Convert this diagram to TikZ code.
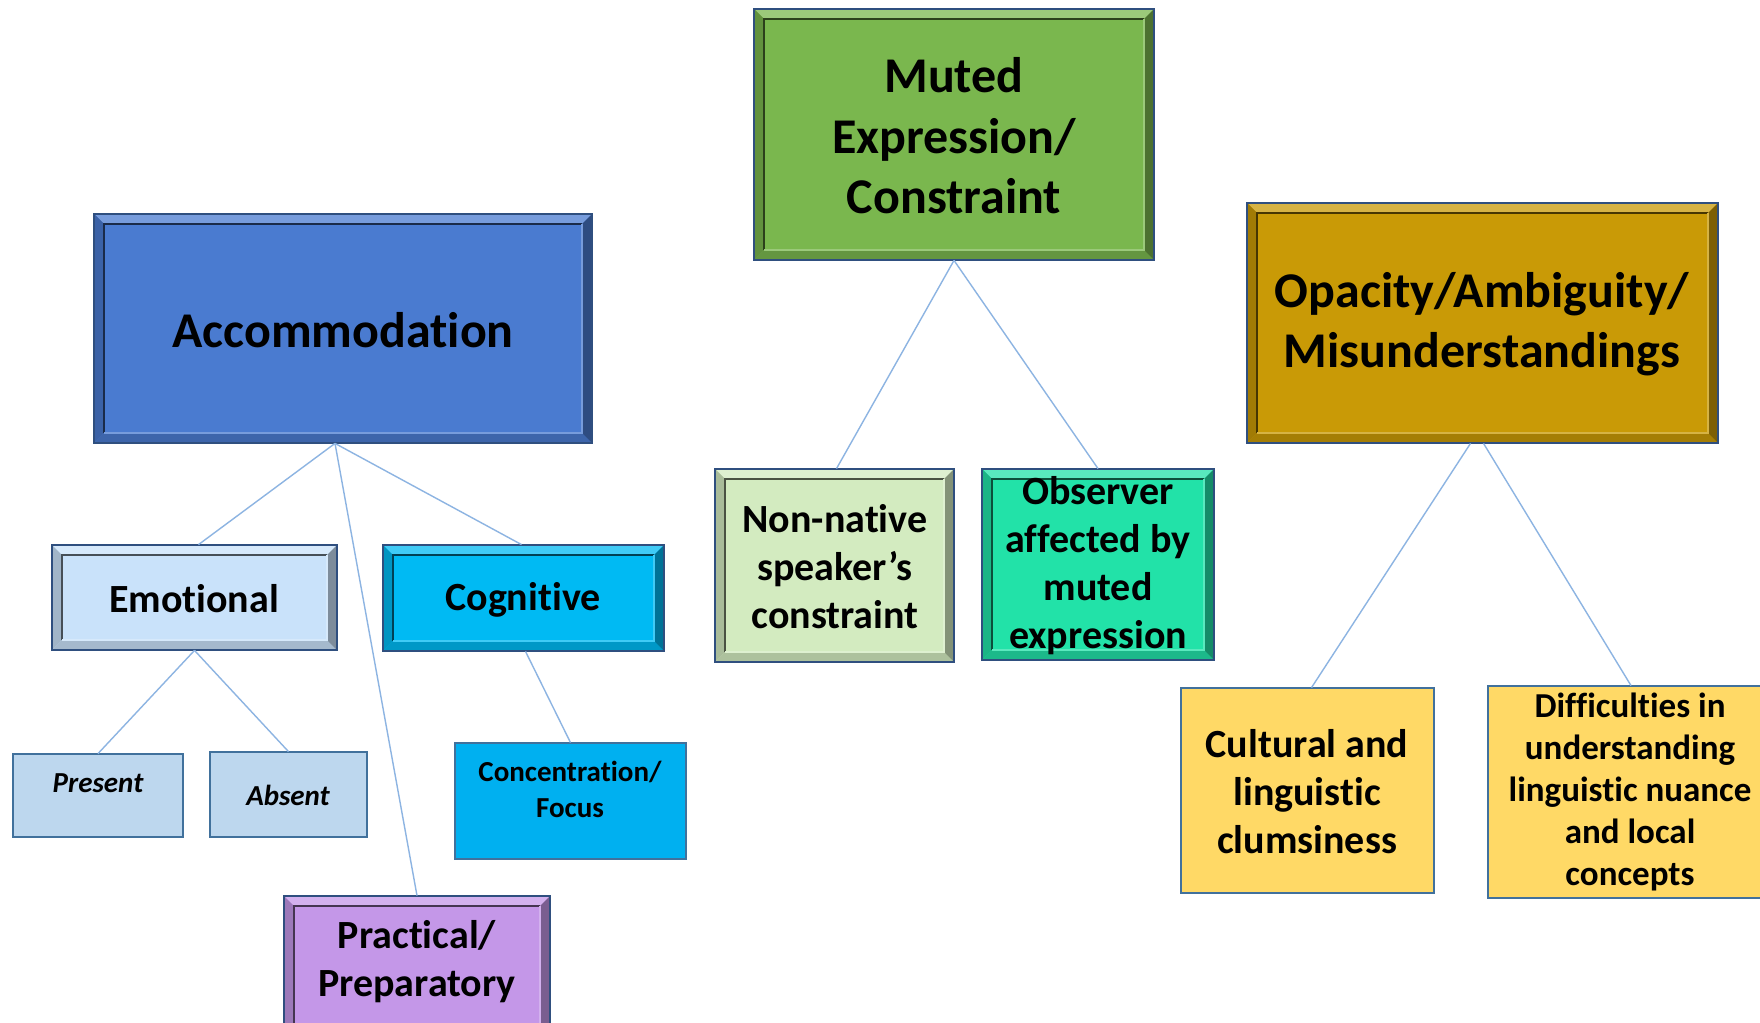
\documentclass[tikz,border=0pt]{standalone}
\usepackage{fontspec}
\setmainfont{Carlito}[Ligatures={NoCommon}]
\usetikzlibrary{calc,fit}
\definecolor{accC}{HTML}{4A7BD0}
\definecolor{mutC}{HTML}{7AB74E}
\definecolor{opaC}{HTML}{C99A06}
\definecolor{emoC}{HTML}{C9E2FA}
\definecolor{cogC}{HTML}{00BAF3}
\definecolor{preC}{HTML}{BDD7EE}
\definecolor{conC}{HTML}{00B0F0}
\definecolor{praC}{HTML}{C497E8}
\definecolor{nonC}{HTML}{D3EBC0}
\definecolor{obsC}{HTML}{22E2A8}
\definecolor{culC}{HTML}{FFD966}
\definecolor{lineC}{HTML}{8DB4E2}
\definecolor{bordC}{HTML}{41719C}
\definecolor{outerC}{HTML}{2F4F7F}
\newcommand\bw{10}
\newcommand\bevbox[6]{%
 \fill[#6] (#2,#3) rectangle (#4,#5);
 \fill[#6!75!white] (#2,#3) -- (#4,#3) -- ($(#4,#3)+(-\bw,\bw)$) -- ($(#2,#3)+(\bw,\bw)$) -- cycle;
 \fill[#6!80!black] (#2,#3) -- ($(#2,#3)+(\bw,\bw)$) -- ($(#2,#5)+(\bw,-\bw)$) -- (#2,#5) -- cycle;
 \fill[#6!82!black] (#2,#5) -- ($(#2,#5)+(\bw,-\bw)$) -- ($(#4,#5)+(-\bw,-\bw)$) -- (#4,#5) -- cycle;
 \fill[#6!62!black] (#4,#3) -- (#4,#5) -- ($(#4,#5)+(-\bw,-\bw)$) -- ($(#4,#3)+(-\bw,\bw)$) -- cycle;
 \draw[#6!35!black, line width=0.8pt] ($(#2,#5)+(\bw,-\bw)$) -- ($(#2,#3)+(\bw,\bw)$) -- ($(#4,#3)+(-\bw,\bw)$);
 \draw[#6!75!white, line width=0.6pt] ($(#4,#3)+(-\bw,\bw)$) -- ($(#4,#5)+(-\bw,-\bw)$) -- ($(#2,#5)+(\bw,-\bw)$);
 \draw[outerC, line width=0.9pt] (#2,#3) rectangle (#4,#5);
 \node[fit={(#2,#3) (#4,#5)}, inner sep=0pt] (#1) {};
}
\newcommand\flatbox[6]{%
 \draw[bordC, line width=1pt, fill=#6] (#2,#3) rectangle (#4,#5);
 \node[fit={(#2,#3) (#4,#5)}, inner sep=0pt] (#1) {};
}
\tikzset{
 big/.style={font=\fontsize{25pt}{30.3pt}\selectfont\bfseries, align=center, inner sep=0pt},
 mid/.style={font=\fontsize{20pt}{24pt}\selectfont\bfseries, align=center, inner sep=0pt},
 diff/.style={font=\fontsize{17.5pt}{21.1pt}\selectfont\bfseries, align=center, inner sep=0pt},
 small/.style={font=\fontsize{14.5pt}{18pt}\selectfont\bfseries, align=center, inner sep=0pt},
 smallit/.style={font=\fontsize{14.5pt}{18pt}\selectfont\bfseries\itshape, align=center, inner sep=0pt},
 conn/.style={draw=lineC, line width=0.7pt}
}
\begin{document}
\begin{tikzpicture}[x=0.5pt,y=-0.5pt]
\clip (0,0) rectangle (1760,1022);
\fill[white] (0,0) rectangle (1760,1022);
% boxes
\bevbox{acc}{94}{214}{592}{443}{accC}
\bevbox{mut}{754}{9}{1154}{260}{mutC}
\bevbox{opa}{1247}{203}{1718}{443}{opaC}
\bevbox{emo}{52}{545}{337}{650}{emoC}
\bevbox{cog}{383}{545}{664}{651}{cogC}
\bevbox{pra}{284}{896}{550}{1036}{praC}
\bevbox{non}{715}{469}{954}{662}{nonC}
\bevbox{obs}{982}{469}{1214}{660}{obsC}
\flatbox{pre}{13}{754}{183}{837}{preC}
\flatbox{abs}{210}{752}{367}{837}{preC}
\flatbox{con}{455}{743}{686}{859}{conC}
\flatbox{cul}{1181}{688}{1434}{893}{culC}
\flatbox{dif}{1488}{686}{1762}{898}{culC}
% texts
\node[big] (accT) at (343,330) {Accommodation};
\node[big] (mutT) at (954,136) {Muted\\Expression/\\Constraint};
\node[big] (opaT) at (1482,324) {Opacity/Ambiguity/\\Misunderstandings};
\node[mid] (emoT) at (194,599) {Emotional};
\node[mid] (cogT) at (523,600) {Cognitive};
\node[smallit] (preT) at (98,783) {Present};
\node[smallit] (absT) at (288,795) {Absent};
\node[small] (conT) at (570,789) {Concentration/\\Focus};
\node[mid] (praT) at (417,962) {Practical/\\Preparatory};
\node[mid] (nonT) at (835,567) {Non-native\\speaker’s\\constraint};
\node[mid] (obsT) at (1098,566) {Observer\\affected by\\muted\\expression};
\node[mid] (culT) at (1307,792) {Cultural and\\linguistic\\clumsiness};
\node[diff] (difT) at (1630,792) {Difficulties in\\understanding\\linguistic nuance\\and local\\concepts};
% connectors
\draw[conn] ([xshift=-4pt]acc.south) -- ([xshift=2pt]emo.north);
\draw[conn] ([xshift=-4pt]acc.south) -- ([xshift=-1pt]cog.north);
\draw[conn] ([xshift=-4pt]acc.south) -- (pra.north);
\draw[conn] (emo.south) -- (pre.north);
\draw[conn] (emo.south) -- (abs.north);
\draw[conn] ([xshift=1pt]cog.south) -- (con.north);
\draw[conn] (mut.south) -- ([xshift=1pt]non.north);
\draw[conn] (mut.south) -- (obs.north);
\draw[conn] ([xshift=-6pt]opa.south) -- ([xshift=2pt]cul.north);
\draw[conn] ([xshift=0.5pt]opa.south) -- ([xshift=3pt]dif.north);
\end{tikzpicture}
\end{document}
